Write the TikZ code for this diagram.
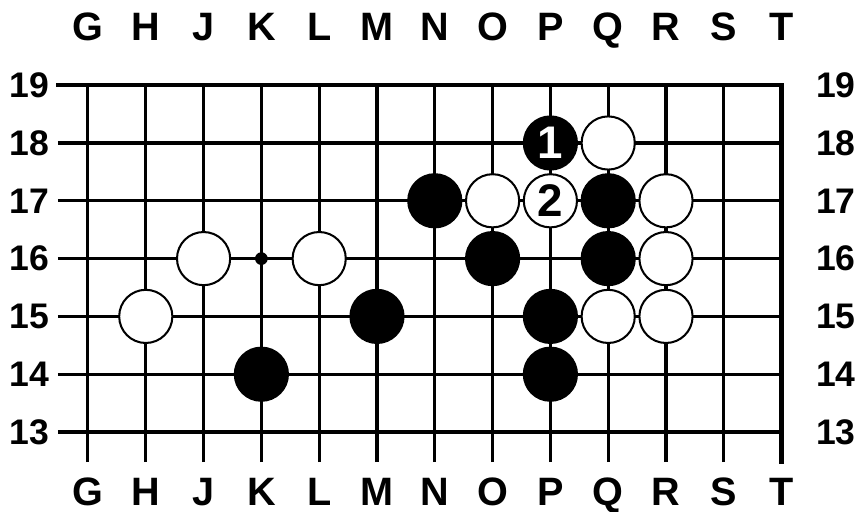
\documentclass[tikz,border=0pt]{standalone}
\usepackage{fontspec}
\setmainfont{Liberation Sans}

\begin{document}
\begin{tikzpicture}[grid/.style={line width=1.5pt},edge/.style={line width=2.2pt,line cap=rect},
 bstone/.style={circle,draw=black,fill=black,line width=1pt,minimum size=9.2mm,inner sep=0pt,text=white,font=\fontsize{22.5}{22}\selectfont\bfseries},
 wstone/.style={bstone,fill=white,text=black},
 letter/.style={anchor=base,font=\fontsize{19.5}{20}\selectfont\bfseries},
 number/.style={font=\fontsize{17.5}{18}\selectfont\bfseries},
 hoshi/.style={circle,fill=black,inner sep=0pt,minimum size=2.2mm}]
 \useasboundingbox (-1.522,-1.367) rectangle (13.339,7.474);
 % lines of the board
 \foreach \y in {0,...,5}{\draw[grid] (-.52,\y)--(12,\y);}
 \foreach \x in {0,...,11}{\draw[grid] (\x,-.52)--(\x,6);}
 \draw[edge] (-.52,6)--(12,6)--(12,-.52);
 \node[hoshi] (star) at (3,3) {};
 % coordinates
 \foreach \c [count=\i from 0] in {G,H,J,K,L,M,N,O,P,Q,R,S,T}{
  \node[letter] (top\c) at (\i,6.77) {\c};
  \node[letter] (bot\c) at (\i,-1.27) {\c};}
 \foreach \r [count=\j from 0] in {13,...,19}{
  \node[number] (left\r) at (-1.02,\j) {\r};
  \node[number] (right\r) at (12.94,\j) {\r};}
 % stones
 \foreach \n/\x/\y in {N17/6/4,Q17/9/4,O16/7/3,Q16/9/3,M15/5/2,P15/8/2,K14/3/1,P14/8/1}{\node[bstone] (\n) at (\x,\y) {};}
 \foreach \n/\x/\y in {Q18/9/5,O17/7/4,R17/10/4,J16/2/3,L16/4/3,R16/10/3,H15/1/2,Q15/9/2,R15/10/2}{\node[wstone] (\n) at (\x,\y) {};}
 \node[bstone] (P18) at (8,5) {1};
 \node[wstone] (P17) at (8,4) {2};
\end{tikzpicture}
\end{document}
